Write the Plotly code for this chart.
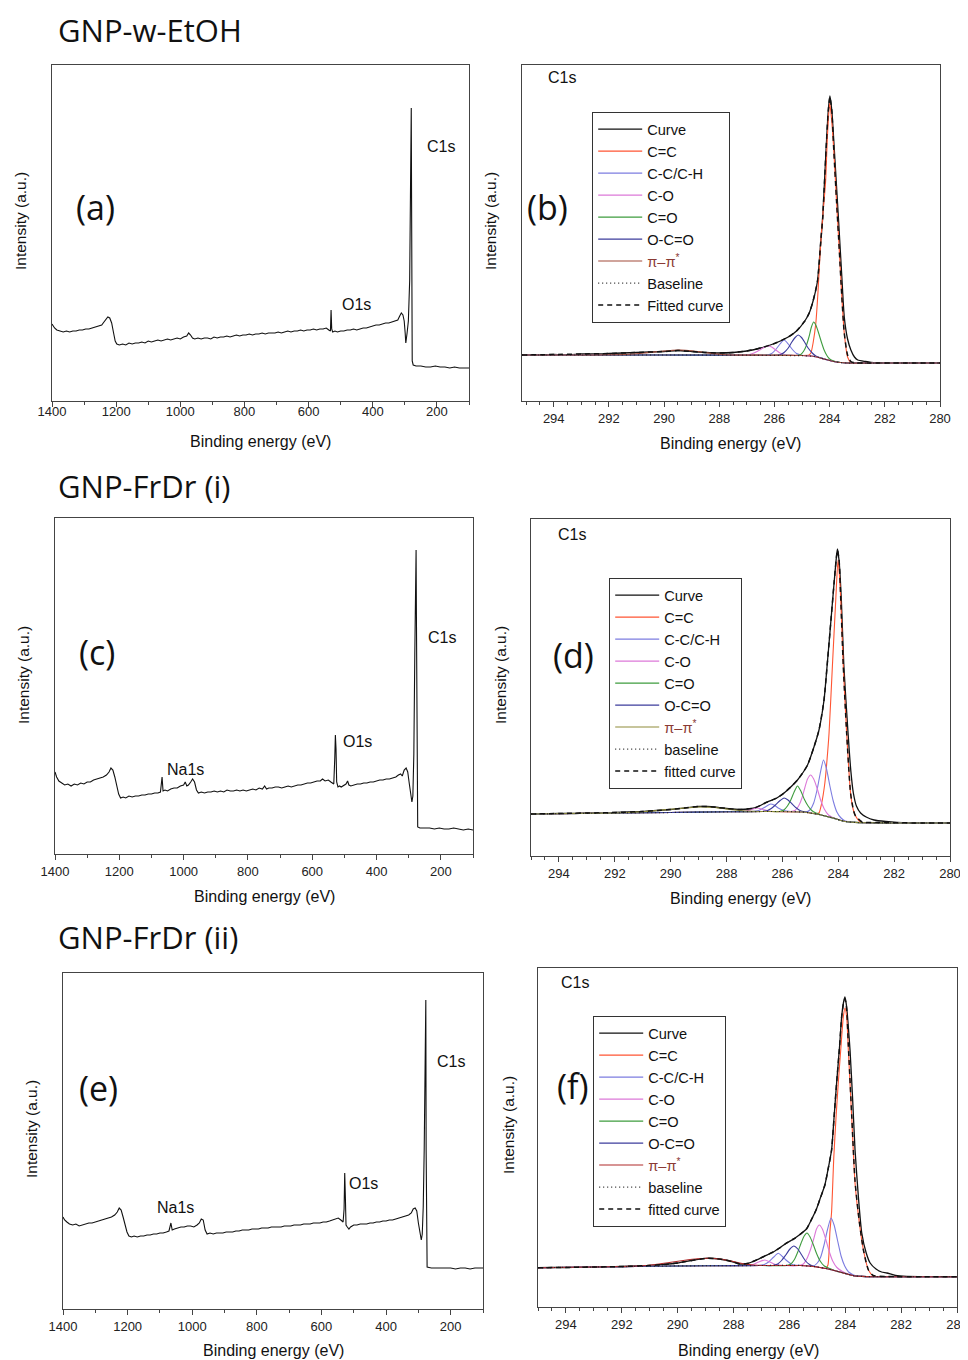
import plotly.graph_objects as go

W, H = 968, 1360
OX, OY = 8, 8   # the page body adds an 8 px margin; layout pixel positions are corrected for it

# ---------------- survey spectra (binding energy eV, intensity a.u.) ----------------
A_SURVEY = [(1400, 77), (1392, 73), (1385, 71), (1375, 70), (1365, 69), (1355, 70), (1345, 69), (1335, 70),
            (1325, 70), (1315, 71), (1305, 71), (1295, 72), (1285, 72), (1275, 73), (1265, 74), (1255, 75),
            (1245, 76), (1238, 79), (1232, 81), (1226, 84), (1220, 83), (1214, 78), (1208, 68), (1203, 60),
            (1198, 57), (1190, 56), (1180, 57), (1170, 56), (1160, 58), (1150, 57), (1140, 58), (1130, 58),
            (1120, 59), (1110, 58), (1100, 60), (1090, 59), (1080, 60), (1070, 61), (1060, 60), (1050, 61),
            (1040, 62), (1030, 61), (1020, 62), (1010, 63), (1000, 62), (990, 64), (980, 65), (974, 68),
            (968, 66), (962, 63), (955, 62), (945, 63), (935, 62), (925, 63), (915, 63), (905, 62), (895, 64),
            (885, 63), (875, 64), (865, 64), (855, 65), (845, 64), (835, 65), (825, 66), (815, 65), (805, 66),
            (795, 66), (785, 67), (775, 66), (765, 67), (755, 67), (745, 68), (735, 67), (725, 68), (715, 68),
            (705, 68), (695, 69), (685, 68), (675, 69), (665, 70), (655, 69), (645, 70), (635, 70), (625, 71),
            (615, 70), (605, 71), (595, 71), (585, 72), (575, 71), (565, 72), (555, 72), (545, 73), (537, 71),
            (532, 70), (530, 91), (528, 72), (525, 69), (518, 70), (510, 69), (500, 70), (490, 70), (480, 71),
            (470, 71), (460, 72), (450, 71), (440, 72), (430, 73), (420, 73), (410, 74), (400, 75), (390, 76),
            (380, 76), (370, 77), (360, 78), (350, 78), (340, 79), (330, 80), (322, 81), (316, 85), (311, 88),
            (306, 86), (302, 80), (299, 68), (297, 58), (293, 68), (289, 80), (285, 120), (282, 200), (280, 293),
            (279, 200), (278, 80), (277, 40), (274, 36), (265, 35), (250, 35), (235, 34), (220, 34), (205, 35),
            (190, 34), (175, 34), (160, 33), (145, 34), (130, 33), (115, 33), (100, 33)]

C_SURVEY = [(1400, 82), (1395, 77), (1388, 73), (1380, 71), (1370, 69), (1360, 70), (1350, 68), (1340, 70),
            (1330, 69), (1320, 71), (1310, 70), (1300, 72), (1290, 72), (1280, 74), (1270, 75), (1260, 76),
            (1250, 77), (1240, 79), (1232, 82), (1226, 86), (1220, 84), (1214, 77), (1208, 68), (1202, 60),
            (1196, 56), (1188, 57), (1180, 56), (1170, 58), (1160, 57), (1150, 58), (1140, 58), (1130, 59),
            (1120, 59), (1110, 60), (1100, 60), (1090, 61), (1080, 61), (1072, 62), (1067, 77), (1064, 63),
            (1058, 64), (1050, 63), (1040, 65), (1030, 66), (1020, 66), (1010, 68), (1000, 69), (995, 72),
            (990, 68), (985, 69), (978, 72), (972, 75), (966, 72), (960, 64), (954, 61), (945, 62), (935, 61),
            (925, 62), (915, 62), (905, 63), (895, 62), (885, 63), (875, 62), (865, 64), (855, 63), (845, 63),
            (835, 64), (825, 63), (815, 64), (805, 63), (795, 64), (785, 65), (775, 64), (765, 66), (755, 65),
            (748, 68), (742, 65), (735, 66), (725, 66), (715, 67), (705, 67), (695, 66), (685, 67), (675, 68),
            (665, 67), (655, 68), (645, 69), (635, 69), (625, 70), (615, 71), (605, 71), (595, 72), (585, 73),
            (575, 73), (568, 75), (560, 73), (550, 74), (542, 72), (533, 70), (530, 95), (528, 119), (526, 105),
            (524, 72), (520, 67), (515, 68), (510, 67), (500, 69), (495, 70), (490, 73), (486, 69), (480, 68),
            (470, 69), (460, 70), (450, 70), (440, 71), (430, 71), (420, 72), (410, 72), (400, 73), (390, 74),
            (380, 74), (370, 75), (360, 75), (350, 76), (340, 77), (332, 79), (325, 80), (320, 78), (314, 84),
            (308, 86), (303, 82), (298, 70), (294, 58), (290, 52), (287, 58), (284, 100), (281, 200), (279, 240),
            (277, 304), (276, 240), (275, 120), (274, 40), (272, 27), (265, 26), (250, 26), (235, 26), (220, 25),
            (205, 26), (190, 25), (175, 25), (160, 26), (145, 25), (130, 24), (115, 25), (100, 24)]

E_SURVEY = [(1400, 92), (1395, 89), (1388, 87), (1380, 85), (1370, 84), (1360, 85), (1350, 83), (1340, 84),
            (1330, 85), (1320, 86), (1310, 86), (1300, 87), (1290, 88), (1280, 89), (1270, 90), (1260, 91),
            (1250, 92), (1240, 94), (1232, 97), (1226, 101), (1220, 99), (1214, 92), (1208, 84), (1202, 77),
            (1196, 73), (1188, 72), (1180, 73), (1170, 72), (1160, 73), (1150, 73), (1140, 74), (1130, 74),
            (1120, 75), (1110, 75), (1100, 76), (1090, 76), (1080, 77), (1072, 78), (1066, 86), (1062, 79),
            (1055, 80), (1045, 81), (1035, 82), (1025, 82), (1015, 83), (1005, 83), (995, 82), (985, 84),
            (978, 86), (972, 90), (966, 89), (960, 79), (954, 75), (945, 76), (935, 75), (925, 76), (915, 76),
            (905, 76), (895, 77), (885, 77), (875, 77), (865, 78), (855, 78), (845, 79), (835, 79), (825, 79),
            (815, 80), (805, 80), (795, 80), (785, 81), (775, 81), (765, 81), (755, 82), (745, 82), (735, 82),
            (725, 82), (715, 83), (705, 83), (695, 83), (685, 84), (675, 84), (665, 84), (655, 85), (645, 85),
            (635, 85), (625, 86), (615, 86), (605, 86), (595, 87), (585, 87), (575, 88), (565, 89), (555, 90),
            (548, 91), (540, 89), (533, 87), (530, 100), (528, 136), (526, 112), (524, 84), (520, 82), (515, 80),
            (510, 82), (500, 84), (490, 84), (480, 85), (470, 85), (460, 85), (450, 86), (440, 86), (430, 87),
            (420, 87), (410, 88), (400, 88), (390, 89), (380, 89), (370, 90), (360, 91), (350, 92), (340, 93),
            (330, 94), (322, 96), (316, 100), (310, 101), (305, 98), (300, 86), (295, 74), (291, 69), (288, 75),
            (285, 102), (282, 159), (280, 250), (279, 309), (277, 309), (276, 159), (275, 46), (273, 42),
            (260, 41), (245, 41), (230, 41), (215, 41), (200, 41), (185, 40), (170, 41), (155, 41), (140, 40),
            (125, 41), (110, 41), (100, 41)]

# ---------------- C1s high-resolution spectra: panel (b) ----------------
B_CURVE = [(295.15, 46), (294.5, 46), (294, 46.5), (293.5, 46), (293, 47), (292.5, 47), (292, 47.5), (291.5, 48),
           (291, 48.5), (290.5, 49), (290, 49.5), (289.5, 50.5), (289, 49.5), (288.5, 48.5), (288, 48),
           (287.5, 48.5), (287, 50), (286.5, 53), (286, 57.5), (285.5, 64), (285.2, 70), (284.9, 80),
           (284.74, 88), (284.6, 100), (284.44, 120), (284.32, 160), (284.25, 184), (284.13, 251), (284.05, 290),
           (283.99, 305), (283.92, 290), (283.83, 251), (283.74, 210), (283.65, 168), (283.56, 125), (283.47, 84),
           (283.35, 62), (283.23, 51), (283.1, 44), (282.98, 41), (282.7, 39.5), (282.5, 38.7), (282, 38),
           (281, 38), (280, 38)]
B_FIT = [(295.15, 46), (294, 46.5), (293, 47), (292, 47.5), (291, 48.5), (290, 49.5), (289.5, 50.5), (289, 49.5),
         (288.5, 48.5), (288, 48), (287.5, 48.5), (287, 50), (286.5, 53), (286, 57.5), (285.5, 64), (285.2, 70),
         (284.9, 80), (284.74, 88), (284.6, 100), (284.44, 120), (284.32, 160), (284.25, 184), (284.13, 251),
         (284.05, 290), (283.99, 304), (283.92, 290), (283.85, 251), (283.75, 200), (283.65, 151), (283.56, 105),
         (283.47, 68), (283.35, 46), (283.23, 39.5), (283.1, 38.3), (282.5, 38), (281, 38), (280, 38)]
B_BASELINE = [(295.15, 46), (292, 46), (289, 46), (287, 45.8), (285, 45.3), (284.6, 44.8), (284.4, 43.5),
              (284.2, 42), (284, 40.5), (283.8, 39.3), (283.6, 38.5), (283.4, 38), (282, 38), (280, 38)]
B_CC = [(295.15, 46), (293, 46), (291, 46), (289, 46), (287, 46), (285.5, 45.8), (285, 45.5), (284.75, 46),
        (284.68, 48), (284.6, 58), (284.5, 78), (284.42, 110), (284.34, 151), (284.25, 185), (284.15, 218),
        (284.08, 265), (284.0, 298), (283.94, 285), (283.85, 251), (283.75, 200), (283.65, 151), (283.56, 105),
        (283.47, 68), (283.35, 44), (283.23, 38.5), (283, 38), (282, 38), (281, 38), (280, 38)]
B_CH = [(295.15, 46), (290, 46), (287, 45.8), (286.3, 45.8), (286.1, 47.5), (285.95, 51.5), (285.8, 57),
        (285.65, 61), (285.5, 57), (285.35, 51.5), (285.2, 47.5), (285.0, 45.8), (284.8, 45.3), (284.6, 44.8),
        (284.4, 43.5), (284.2, 42), (284, 40.5), (283.8, 39.3), (283.6, 38.5), (283.4, 38), (282, 38), (280, 38)]
B_CO = [(295.15, 46), (290, 46), (287.2, 46), (286.9, 46.5), (286.7, 48.5), (286.5, 51.5), (286.35, 54),
        (286.23, 55), (286.1, 54), (285.95, 51), (285.8, 48), (285.6, 46.2), (285.3, 45.8), (285, 45.5),
        (284.6, 44.8), (284.4, 43.5), (284.2, 42), (284, 40.5), (283.8, 39.3), (283.6, 38.5), (283.4, 38),
        (282, 38), (280, 38)]
B_CEO = [(295.15, 46), (290, 46), (287, 45.8), (285.5, 45.8), (285.2, 45.6), (285.05, 46.5), (284.95, 49.5),
         (284.85, 55), (284.75, 64), (284.66, 74), (284.58, 79), (284.5, 76), (284.4, 68), (284.3, 59),
         (284.2, 51), (284.1, 45.5), (284, 42), (283.85, 40), (283.7, 39), (283.5, 38.2), (283.3, 38), (282, 38),
         (280, 38)]
B_OCO = [(295.15, 46), (290, 46), (287, 45.8), (286, 45.8), (285.8, 46.3), (285.65, 48.5), (285.5, 53),
         (285.38, 58.5), (285.25, 63.5), (285.14, 66), (285.02, 63.5), (284.9, 58.5), (284.78, 53), (284.63, 48),
         (284.5, 45), (284.35, 43.5), (284.2, 42), (284, 40.5), (283.8, 39.3), (283.6, 38.5), (283.4, 38),
         (282, 38), (280, 38)]
B_PI = [(295.15, 46), (293, 46), (292, 46.2), (291.3, 46.8), (290.7, 48), (290.2, 49.5), (289.7, 50.8),
        (289.4, 51), (289, 50.2), (288.6, 48.8), (288.2, 47.3), (287.8, 46.3), (287.3, 45.9), (286, 45.8),
        (285, 45.5), (284.6, 44.8), (284.4, 43.5), (284.2, 42), (284, 40.5), (283.8, 39.3), (283.6, 38.5),
        (283.4, 38), (282, 38), (280, 38)]

# ---------------- panel (d) ----------------
D_CURVE = [(295, 42), (294.5, 42.3), (294, 42.5), (293.5, 42.5), (293, 43), (292.5, 43), (292, 43.5), (291.5, 44),
           (291, 44.5), (290.5, 45.5), (290, 46.5), (289.5, 48), (289, 49.5), (288.7, 49.5), (288.3, 48.5),
           (288, 47.5), (287.5, 46.5), (287, 48), (286.54, 54), (286.2, 58), (285.94, 63), (285.7, 69),
           (285.46, 76), (285.25, 84), (285.1, 91), (284.87, 109), (284.69, 126), (284.51, 156), (284.4, 190),
           (284.3, 223), (284.15, 273), (284.08, 295), (284.03, 307), (283.97, 295), (283.89, 256), (283.8, 190),
           (283.65, 123), (283.55, 85), (283.46, 63), (283.35, 50), (283.2, 43), (283, 39), (282.72, 36),
           (282.3, 34.5), (281.53, 33), (280.5, 33), (280, 33)]
D_FIT = [(295, 42), (294, 42.5), (293, 43), (292, 43.5), (291, 44.5), (290.5, 45.5), (290, 46.5), (289.5, 48),
         (289, 49.5), (288.7, 49.5), (288.3, 48.5), (288, 47.5), (287.5, 46.5), (287, 48), (286.54, 54),
         (286.2, 58), (285.94, 63), (285.7, 69), (285.46, 76), (285.25, 84), (285.1, 91), (284.87, 109),
         (284.69, 126), (284.51, 156), (284.4, 190), (284.3, 223), (284.15, 273), (284.08, 295), (284.03, 306),
         (283.97, 296), (283.91, 256), (283.82, 190), (283.7, 123), (283.56, 63), (283.45, 45), (283.38, 40),
         (283.14, 34), (282.5, 33.5), (281, 33), (280, 33)]
D_BASELINE = [(295, 42), (292, 43), (290, 43.5), (288, 44.2), (286.5, 44.5), (285.6, 44.4), (285.3, 44),
              (285, 43), (284.7, 41.5), (284.4, 39.5), (284.1, 37.3), (283.9, 35.5), (283.7, 34.3), (283.4, 33.6),
              (283, 33.3), (282, 33), (280, 33)]
D_CC = [(295, 42), (292, 43), (290, 43.5), (288, 44.2), (286.5, 44.5), (285.3, 44), (285, 43), (284.8, 42.3),
        (284.69, 43), (284.6, 52), (284.48, 73), (284.4, 97), (284.33, 123), (284.21, 190), (284.09, 256),
        (284.01, 296), (283.96, 282), (283.91, 256), (283.82, 190), (283.7, 123), (283.63, 90), (283.56, 63),
        (283.47, 47), (283.38, 40), (283.25, 35), (283.14, 33.5), (282.5, 33.2), (281, 33), (280, 33)]
D_CH = [(295, 42), (292, 43), (290, 43.5), (288, 44.2), (287.1, 44.5), (286.85, 45.5), (286.65, 48.5),
        (286.5, 51), (286.42, 52), (286.3, 51), (286.15, 48), (285.95, 45.5), (285.7, 44.5), (285.3, 44),
        (285.15, 44), (285.0, 46.5), (284.88, 53), (284.76, 66), (284.65, 82), (284.53, 96), (284.42, 87),
        (284.3, 70), (284.18, 55), (284.05, 44), (283.9, 38), (283.75, 35), (283.5, 33.8), (283, 33.3), (282, 33),
        (280, 33)]
D_CO = [(295, 42), (292, 43), (290, 43.5), (288, 44.2), (287.5, 44.4), (287.3, 45), (287.1, 46.5), (286.9, 48),
        (286.7, 46.5), (286.5, 45), (286.2, 44.5), (285.7, 44.4), (285.55, 45.5), (285.42, 50), (285.3, 58),
        (285.2, 68), (285.1, 77), (284.99, 81), (284.88, 77), (284.75, 67), (284.62, 55), (284.5, 47),
        (284.35, 41), (284.2, 38.5), (284, 36.5), (283.8, 35), (283.5, 33.8), (283, 33.3), (282, 33), (280, 33)]
D_CEO = [(295, 42), (292, 43), (290, 43.5), (288, 44.2), (286.5, 44.5), (286.1, 44.5), (285.95, 46),
         (285.82, 50), (285.7, 56), (285.58, 64), (285.46, 70), (285.34, 65), (285.22, 57), (285.08, 50),
         (284.95, 45.5), (284.8, 43), (284.6, 41), (284.4, 39.5), (284.1, 37.3), (283.9, 35.5), (283.7, 34.3),
         (283.4, 33.6), (283, 33.3), (282, 33), (280, 33)]
D_OCO = [(295, 42), (292, 43), (290, 43.5), (288, 44.2), (286.8, 44.5), (286.55, 45.3), (286.4, 47.5),
         (286.25, 51), (286.1, 55), (285.94, 58), (285.8, 56), (285.65, 52), (285.5, 48), (285.35, 45.3),
         (285.15, 44), (285, 43), (284.7, 41.5), (284.4, 39.5), (284.1, 37.3), (283.9, 35.5), (283.7, 34.3),
         (283.4, 33.6), (283, 33.3), (282, 33), (280, 33)]
D_PI = [(295, 42), (293, 42.8), (292, 43), (291.5, 43.5), (291, 44.3), (290.5, 45.5), (290, 46.7), (289.5, 48),
        (289, 49), (288.6, 48.8), (288.2, 47.8), (287.8, 46.3), (287.3, 45), (286.8, 44.5), (286.5, 44.5),
        (285.3, 44), (285, 43), (284.7, 41.5), (284.4, 39.5), (284.1, 37.3), (283.9, 35.5), (283.7, 34.3),
        (283.4, 33.6), (283, 33.3), (282, 33), (280, 33)]

# ---------------- panel (f) ----------------
F_CURVE = [(295, 39.3), (294.5, 39.5), (294, 39.5), (293.5, 39.8), (293, 40), (292.5, 40.3), (292, 40.5),
           (291.5, 41), (291, 41.5), (290.5, 42.5), (290, 44), (289.5, 46.5), (289, 48.7), (288.7, 48.5),
           (288.3, 47), (288, 45), (287.78, 43), (287.5, 43.5), (287.18, 47), (286.88, 51), (286.58, 55),
           (286.3, 60), (286.1, 64), (285.85, 68), (285.6, 73), (285.39, 78), (285.2, 88), (285.03, 98),
           (284.88, 110), (284.73, 122), (284.6, 140), (284.49, 157), (284.4, 190), (284.31, 224), (284.2, 262),
           (284.13, 290), (284.06, 305), (284.01, 310), (283.95, 300), (283.89, 280), (283.83, 257),
           (283.74, 210), (283.65, 157), (283.53, 110), (283.41, 74), (283.25, 54), (283.11, 44), (282.9, 38),
           (282.7, 35), (282.51, 34), (282.2, 31.5), (281.8, 30.5), (281, 30.3), (280, 30.3)]
F_FIT = [(295, 39.3), (294, 39.5), (293, 40), (292, 40.5), (291, 41.5), (290.5, 42.5), (290, 44), (289.5, 46.5),
         (289, 48.7), (288.7, 48.5), (288.3, 47), (288, 45), (287.78, 43), (287.5, 43.5), (287.18, 47),
         (286.88, 51), (286.58, 55), (286.3, 60), (286.1, 64), (285.85, 68), (285.6, 73), (285.39, 78),
         (285.2, 88), (285.03, 98), (284.88, 110), (284.73, 122), (284.6, 140), (284.49, 157), (284.4, 190),
         (284.31, 224), (284.2, 262), (284.13, 290), (284.06, 304), (284.01, 308), (283.95, 298), (283.89, 262),
         (283.77, 192), (283.65, 126), (283.5, 86), (283.35, 57), (283.17, 37), (283.0, 31.5), (282.5, 30.5),
         (281, 30.3), (280, 30.3)]
F_BASELINE = [(295, 39.3), (293, 40), (291, 40.8), (289, 41.3), (287, 41.5), (285.6, 41.5), (285.3, 41),
              (285, 40), (284.7, 38.5), (284.4, 36.5), (284.1, 34.3), (283.9, 32.7), (283.7, 31.3), (283.4, 30.6),
              (283, 30.3), (282, 30.3), (280, 30.3)]
F_CC = [(295, 39.3), (293, 40), (291, 40.8), (289, 41.3), (287, 41.5), (285.6, 41.5), (285.3, 41), (285, 40),
        (284.7, 38.6), (284.62, 42), (284.55, 75), (284.49, 95), (284.41, 150), (284.33, 190), (284.25, 224),
        (284.16, 258), (284.07, 290), (284.01, 299), (283.95, 290), (283.89, 257), (283.77, 190), (283.65, 124),
        (283.5, 85), (283.35, 57), (283.17, 37), (283.0, 31), (282.5, 30.4), (281, 30.3), (280, 30.3)]
F_CH = [(295, 39.3), (293, 40), (291, 40.8), (289, 41.3), (287.1, 41.5), (286.9, 42.5), (286.72, 45.5),
        (286.56, 50), (286.4, 53.7), (286.25, 50.5), (286.08, 46), (285.9, 42.5), (285.6, 41.5), (285.3, 41),
        (285.15, 40.8), (285.0, 44), (284.88, 50), (284.76, 62), (284.64, 77), (284.51, 89), (284.4, 82),
        (284.28, 67), (284.15, 51), (284.02, 41), (283.88, 35), (283.7, 32), (283.4, 30.6), (283, 30.3),
        (282, 30.3), (280, 30.3)]
F_CO = [(295, 39.3), (293, 40), (291, 40.8), (289, 41.3), (287.5, 41.5), (287.3, 42.5), (287.1, 45), (286.88, 47),
        (286.7, 45), (286.5, 42.5), (286.2, 41.5), (285.65, 41.5), (285.5, 43), (285.38, 48), (285.25, 57),
        (285.13, 68), (285.03, 78), (284.93, 82), (284.82, 78), (284.7, 68), (284.58, 56), (284.45, 46),
        (284.3, 39.5), (284.1, 35.5), (283.9, 33), (283.7, 31.3), (283.4, 30.6), (283, 30.3), (282, 30.3),
        (280, 30.3)]
F_CEO = [(295, 39.3), (293, 40), (291, 40.8), (289, 41.3), (287, 41.5), (286.1, 41.5), (285.95, 43),
         (285.82, 47.5), (285.7, 55), (285.58, 64), (285.47, 71), (285.37, 74), (285.26, 70), (285.14, 62),
         (285.02, 53), (284.9, 46), (284.75, 41), (284.55, 38.5), (284.3, 35.8), (284.1, 34.3), (283.9, 32.7),
         (283.7, 31.3), (283.4, 30.6), (283, 30.3), (282, 30.3), (280, 30.3)]
F_OCO = [(295, 39.3), (293, 40), (291, 40.8), (289, 41.3), (287, 41.5), (286.6, 41.5), (286.42, 43),
         (286.28, 46.5), (286.13, 52), (285.98, 58), (285.84, 61), (285.7, 58), (285.56, 52), (285.42, 46),
         (285.28, 42.5), (285.1, 40.5), (284.9, 39.5), (284.7, 38.5), (284.4, 36.5), (284.1, 34.3),
         (283.9, 32.7), (283.7, 31.3), (283.4, 30.6), (283, 30.3), (282, 30.3), (280, 30.3)]
F_PI = [(295, 39.3), (293, 40), (292, 40.5), (291.4, 41), (290.8, 42.5), (290.3, 44.5), (289.8, 46.5),
        (289.3, 48.2), (288.92, 48.7), (288.5, 48), (288.1, 46), (287.7, 43.5), (287.3, 42), (286.9, 41.5),
        (286, 41.5), (285.6, 41.5), (285.3, 41), (285, 40), (284.7, 38.5), (284.4, 36.5), (284.1, 34.3),
        (283.9, 32.7), (283.7, 31.3), (283.4, 30.6), (283, 30.3), (282, 30.3), (280, 30.3)]

SURVEY_TICKS = [1400, 1200, 1000, 800, 600, 400, 200]
HR_TICKS = [294, 292, 290, 288, 286, 284, 282, 280]
COMPONENT_NAMES = ["C=C", "C-C/C-H", "C-O", "C=O", "O-C=O"]
SECTION_TITLES = ["GNP-w-EtOH", "GNP-FrDr (i)", "GNP-FrDr (ii)"]
PANEL_LETTERS = ["(a)", "(b)", "(c)", "(d)", "(e)", "(f)"]

# ---------------- styling / layout ----------------
COL = {"C=C": "#ff5533", "C-C/C-H": "#7c7ce0", "C-O": "#dc78d8", "C=O": "#3e9c3e", "O-C=O": "#3c3c9c"}
PI_COL = ["#a24a3a", "#8f8c3a", "#b02a2a"]
TICKF = dict(family="Liberation Sans, Arial, sans-serif", size=13, color="#222")
TXTF = "Liberation Sans, Arial, sans-serif"
BIGF = "Open Sans, Lato, sans-serif"

# panel boxes in page pixels: left, right, top, bottom
BOX = [(52, 469, 65, 401), (522, 940, 65, 401),
       (55, 473, 518, 854), (531, 950, 519, 856),
       (63, 483, 973, 1309), (538, 957, 968, 1307)]
XR = [[1400, 100], [295.15, 280], [1400, 100], [295, 280], [1400, 100], [295, 280]]
LABEL_STANDOFF = [-7, 0, 0, 0, 0, 0]


def PX(x):
    return (x - OX) / W


def PY(y):
    return 1 - (y - OY) / H


fig = go.Figure()


def xy(pts):
    return [p[0] for p in pts], [p[1] for p in pts]


def add(n, pts, name=None, color="black", width=1.1, dash="solid", legend=None, shape="linear"):
    x, y = xy(pts)
    fig.add_trace(go.Scatter(
        x=x, y=y, mode="lines", name=name, showlegend=legend is not None,
        legend=legend if legend else "legend",
        line=dict(color=color, width=width, dash=dash, shape=shape, smoothing=0.6),
        xaxis="x" if n == 1 else f"x{n}", yaxis="y" if n == 1 else f"y{n}", hoverinfo="skip"))


for n, data in zip([1, 3, 5], [A_SURVEY, C_SURVEY, E_SURVEY]):
    add(n, data, color="#111", width=1.1)

hr_sets = [
    (2, "legend", B_CURVE, [B_CC, B_CH, B_CO, B_CEO, B_OCO], B_PI, B_BASELINE, B_FIT, "Baseline", "Fitted curve", 0),
    (4, "legend2", D_CURVE, [D_CC, D_CH, D_CO, D_CEO, D_OCO], D_PI, D_BASELINE, D_FIT, "baseline", "fitted curve", 1),
    (6, "legend3", F_CURVE, [F_CC, F_CH, F_CO, F_CEO, F_OCO], F_PI, F_BASELINE, F_FIT, "baseline", "fitted curve", 2),
]
pi_label = "<span style=\"color:#8a3a34\">π–π<sup>*</sup></span>"
for n, lg, curve, comps, pi, base, fit, bname, fname, k in hr_sets:
    add(n, curve, "Curve", "#111", 1.3, legend=lg, shape="spline")
    for nm, comp in zip(COMPONENT_NAMES, comps):
        add(n, comp, nm, COL[nm], 1.1, legend=lg, shape="spline")
    add(n, pi, pi_label, PI_COL[k], 1.1, legend=lg, shape="spline")
    add(n, base, bname, "#222", 1.2, dash="1px,3px", legend=lg, shape="spline")
    add(n, fit, fname, "#111", 1.5, dash="5px,4px", legend=lg, shape="spline")

layout = dict(width=W, height=H, margin=dict(l=0, r=0, t=0, b=0, pad=0, autoexpand=False),
              paper_bgcolor="white", plot_bgcolor="white", showlegend=True)

for i, (l, r, t, b) in enumerate(BOX):
    n = i + 1
    sfx = "" if n == 1 else str(n)
    survey = n in (1, 3, 5)
    layout["xaxis" + sfx] = dict(
        domain=[PX(l), PX(r)], range=XR[i], anchor="y" + sfx,
        tickmode="array", tickvals=SURVEY_TICKS if survey else HR_TICKS,
        ticks="outside", ticklen=5, tickwidth=1, tickcolor="#444", ticklabelstandoff=LABEL_STANDOFF[i],
        minor=dict(ticks="outside", ticklen=3, tickwidth=1, tickcolor="#444", dtick=100 if survey else 0.5,
                   tick0=0, showgrid=False),
        showline=True, linecolor="#444", linewidth=1.3, mirror=True, automargin=False,
        showgrid=False, zeroline=False, tickfont=TICKF, fixedrange=True)
    layout["yaxis" + sfx] = dict(
        domain=[PY(b), PY(t)], range=[0, b - t], anchor="x" + sfx, automargin=False,
        showticklabels=False, ticks="", showline=True, linecolor="#444", linewidth=1.3, mirror=True,
        showgrid=False, zeroline=False, fixedrange=True)

LEG_POS = [(592, 112), (609, 578), (593, 1016)]
for key, (lx, ly) in zip(["legend", "legend2", "legend3"], LEG_POS):
    layout[key] = dict(x=PX(lx), y=PY(ly), xanchor="left", yanchor="top", bgcolor="white",
                       bordercolor="#333", borderwidth=1.2, tracegroupgap=0, traceorder="normal",
                       itemwidth=44, font=dict(family=TXTF, size=14.6, color="#111"))

ann = []


def txt(x, y, s, size, family=TXTF, angle=0, xanchor="center", yanchor="middle"):
    ann.append(dict(x=PX(x), y=PY(y), xref="paper", yref="paper", text=s, showarrow=False,
                    font=dict(family=family, size=size, color="#111"), textangle=angle,
                    xanchor=xanchor, yanchor=yanchor, borderpad=0))


# section titles
txt(57, 8, SECTION_TITLES[0], 31, BIGF, xanchor="left", yanchor="top")
txt(57, 486, SECTION_TITLES[1], 31, BIGF, xanchor="left")
txt(57, 937, SECTION_TITLES[2], 31, BIGF, xanchor="left")
# panel letters
for s, (x, y) in zip(PANEL_LETTERS, [(95, 207), (547, 207), (97, 652), (573, 655), (98, 1088), (573, 1086)]):
    txt(x, y, s, 34, BIGF)
# axis titles
for (x, y) in [(260, 442), (730, 444), (264, 896), (740, 898), (273, 1350), (748, 1350)]:
    txt(x, y, "Binding energy (eV)", 16)
for (x, y) in [(20, 221), (490, 221), (23, 675), (500, 675), (31, 1129), (508, 1125)]:
    txt(x, y, "Intensity (a.u.)", 15.5, angle=-90)
# peak labels
for (x, y, s) in [(441, 147, "C1s"), (356, 304, "O1s"), (442, 637, "C1s"), (357, 741, "O1s"), (185, 769, "Na1s"),
                  (451, 1061, "C1s"), (363, 1183, "O1s"), (175, 1207, "Na1s"),
                  (562, 77, "C1s"), (572, 535, "C1s"), (575, 982, "C1s")]:
    txt(x, y, s, 16)

layout["annotations"] = ann
fig.update_layout(**layout)
fig.write_html("out.html")
